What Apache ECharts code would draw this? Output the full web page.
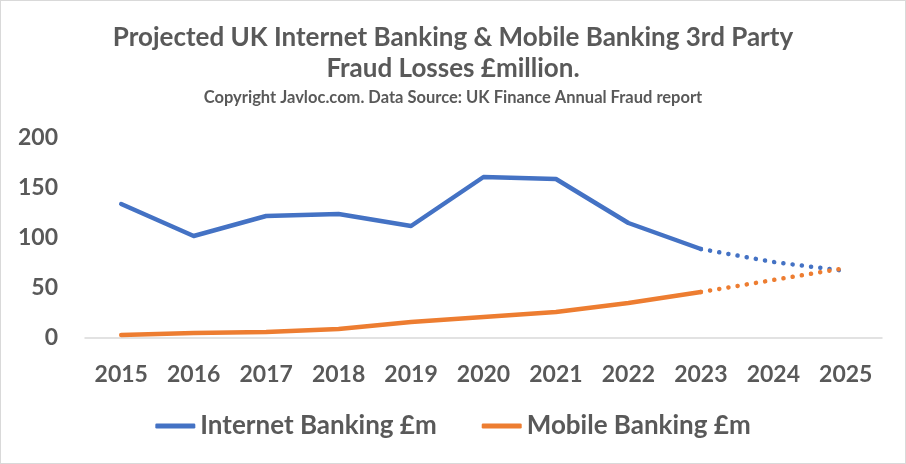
<!DOCTYPE html>
<html>
<head>
<meta charset="utf-8">
<title>UK Internet & Mobile Banking Fraud Losses</title>
<script src="https://cdn.jsdelivr.net/npm/echarts@6/dist/echarts.min.js"></script>
<style>
  html, body { margin: 0; padding: 0; background: #fff; }
  #chart { width: 904px; height: 462px; border: 1px solid #d9d9d9; }
</style>
</head>
<body>
<div id="chart"></div>
<script>
// years on the category axis
var years = ['2015', '2016', '2017', '2018', '2019', '2020', '2021', '2022', '2023', '2024', '2025'];
// actual figures (to 2023)
var internetActual = [134, 102, 122, 124, 112, 161, 159, 115, 89, null, null];
var mobileActual   = [3, 5, 6, 9, 16, 21, 26, 35, 46, null, null];
// projection (2023 -> 2025), drawn dotted
var internetProj = [null, null, null, null, null, null, null, null, 89, 76, 67];
var mobileProj   = [null, null, null, null, null, null, null, null, 46, 58, 70];
var yTicks = [0, 50, 100, 150, 200];

var blue = '#4472c4';
var orange = '#ed7d31';
var textColor = '#595959';
var font = 'Lato';

var chart = echarts.init(document.getElementById('chart'));

function solid(name, data, color) {
  return {
    name: name,
    type: 'line',
    data: data,
    symbol: 'none',
    connectNulls: false,
    lineStyle: { color: color, width: 4.5, cap: 'round', join: 'round' },
    itemStyle: { color: color }
  };
}
function dotted(name, data, color) {
  return {
    name: name,
    type: 'line',
    data: data,
    symbol: 'none',
    lineStyle: { color: color, width: 4.5, type: [0.1, 9.2], cap: 'round' },
    itemStyle: { color: color }
  };
}

chart.setOption({
  animation: false,
  title: {
    text: 'Projected UK Internet Banking & Mobile Banking 3rd Party\nFraud Losses £million.',
    subtext: 'Copyright Javloc.com. Data Source: UK Finance Annual Fraud report',
    left: 'center',
    top: 16,
    itemGap: 5,
    textStyle: { fontFamily: font, fontSize: 26, fontWeight: 'bold', color: textColor, lineHeight: 31 },
    subtextStyle: { fontFamily: font, fontSize: 16.5, fontWeight: 'bold', color: textColor }
  },
  legend: {
    data: ['Internet Banking £m', 'Mobile Banking £m'],
    bottom: 19,
    left: 'center',
    icon: 'roundRect',
    itemWidth: 40,
    itemHeight: 5,
    itemGap: 45,
    textStyle: { fontFamily: font, fontSize: 26, fontWeight: 'bold', color: textColor }
  },
  grid: { left: 84, right: 23, top: 137, bottom: 125, containLabel: false },
  xAxis: {
    type: 'category',
    data: years,
    boundaryGap: true,
    axisLine: { lineStyle: { color: '#d9d9d9', width: 1.5 } },
    axisTick: { show: false },
    axisLabel: { fontFamily: font, fontSize: 23, fontWeight: 'bold', color: textColor, margin: 25 }
  },
  yAxis: {
    type: 'value',
    min: yTicks[0],
    max: yTicks[yTicks.length - 1],
    interval: 50,
    splitLine: { show: false },
    axisLine: { show: false },
    axisTick: { show: false },
    axisLabel: { fontFamily: font, fontSize: 23, fontWeight: 'bold', color: textColor, margin: 27 }
  },
  series: [
    solid('Internet Banking £m', internetActual, blue),
    solid('Mobile Banking £m', mobileActual, orange),
    dotted('Internet projection', internetProj, blue),
    dotted('Mobile projection', mobileProj, orange)
  ]
});
</script>
</body>
</html>
